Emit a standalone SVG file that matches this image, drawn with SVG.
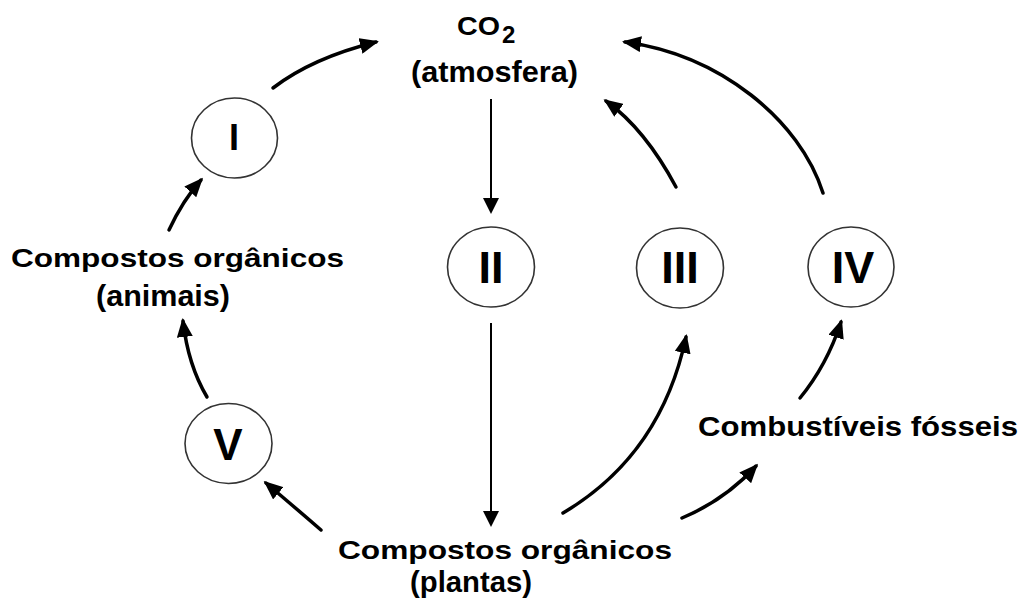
<svg xmlns="http://www.w3.org/2000/svg" width="1023" height="604" viewBox="0 0 1023 604">
<style>
  .t { font-family: "Liberation Sans", Arial, sans-serif; font-weight: bold; fill: #000; }
  .c { fill: #fff; stroke: #333; stroke-width: 1.6; }
  .cv { fill: none; stroke: #000; stroke-width: 3.5; stroke-linecap: round; }
  .vt { fill: none; stroke: #000; stroke-width: 2; }
</style>
<defs>
  <marker id="ah" markerUnits="userSpaceOnUse" markerWidth="20" markerHeight="16" viewBox="0 0 20 16" refX="16" refY="8" orient="auto">
    <path d="M0,0 L19,8 L0,16 z" fill="#000"/>
  </marker>
  <marker id="av" markerUnits="userSpaceOnUse" markerWidth="18" markerHeight="16" viewBox="0 0 18 16" refX="14" refY="8" orient="auto">
    <path d="M0,0 L16,8 L0,16 z" fill="#000"/>
  </marker>
</defs>
<rect width="1023" height="604" fill="#fff"/>

<g id="co2">
  <text class="t" x="457" y="35" font-size="25" textLength="43" lengthAdjust="spacingAndGlyphs">CO</text>
  <text class="t" x="502" y="43" font-size="24">2</text>
  <text class="t" x="411" y="82" font-size="30" textLength="167" lengthAdjust="spacingAndGlyphs">(atmosfera)</text>
</g>

<g id="node-I">
  <ellipse class="c" cx="234.5" cy="138" rx="43" ry="40"/>
  <text class="t" x="234" y="150" font-size="36" text-anchor="middle">I</text>
</g>
<g id="node-II">
  <ellipse class="c" cx="491" cy="267" rx="43.5" ry="40"/>
  <text class="t" x="491" y="282.5" font-size="45" text-anchor="middle">II</text>
</g>
<g id="node-III">
  <ellipse class="c" cx="680" cy="268" rx="43.5" ry="40"/>
  <text class="t" x="680" y="283" font-size="45" text-anchor="middle">III</text>
</g>
<g id="node-IV">
  <ellipse class="c" cx="851" cy="267" rx="43" ry="40"/>
  <text class="t" x="853" y="283" font-size="45" text-anchor="middle">IV</text>
</g>
<g id="node-V">
  <ellipse class="c" cx="228.5" cy="443.5" rx="43.5" ry="40"/>
  <text class="t" x="228" y="460" font-size="44" text-anchor="middle">V</text>
</g>

<g id="animais">
  <text class="t" x="11" y="267" font-size="26" textLength="333" lengthAdjust="spacingAndGlyphs">Compostos orgânicos</text>
  <text class="t" x="96" y="306" font-size="29" textLength="134" lengthAdjust="spacingAndGlyphs">(animais)</text>
</g>

<g id="plantas">
  <text class="t" x="338" y="559" font-size="26.5" textLength="334" lengthAdjust="spacingAndGlyphs">Compostos orgânicos</text>
  <text class="t" x="410" y="592" font-size="29.5" textLength="122" lengthAdjust="spacingAndGlyphs">(plantas)</text>
</g>

<g id="combustiveis">
  <text class="t" x="698" y="436" font-size="28" textLength="320" lengthAdjust="spacingAndGlyphs">Combustíveis fósseis</text>
</g>

<g id="connectors">
  <path class="cv" d="M273,88 Q312,58 376,42" marker-end="url(#ah)"/>
  <path class="vt" d="M491,99 L491,212" marker-end="url(#av)"/>
  <path class="vt" d="M491,323 L491,525" marker-end="url(#av)"/>
  <path class="cv" d="M321,530 Q298,510 266,483" marker-end="url(#ah)"/>
  <path class="cv" d="M207,397 Q188,365 183,321" marker-end="url(#ah)"/>
  <path class="cv" d="M169,230 Q183,200 201,180" marker-end="url(#ah)"/>
  <path class="cv" d="M563,513 Q661,455 686,337" marker-end="url(#ah)"/>
  <path class="cv" d="M682,518 Q725,500 756,466" marker-end="url(#ah)"/>
  <path class="cv" d="M800,398 Q827,365 841,322" marker-end="url(#ah)"/>
  <path class="cv" d="M676,187 Q645,129 606,101" marker-end="url(#ah)"/>
  <path class="cv" d="M823,193 C800,120 720,55 625,42" marker-end="url(#ah)"/>
</g>
</svg>
